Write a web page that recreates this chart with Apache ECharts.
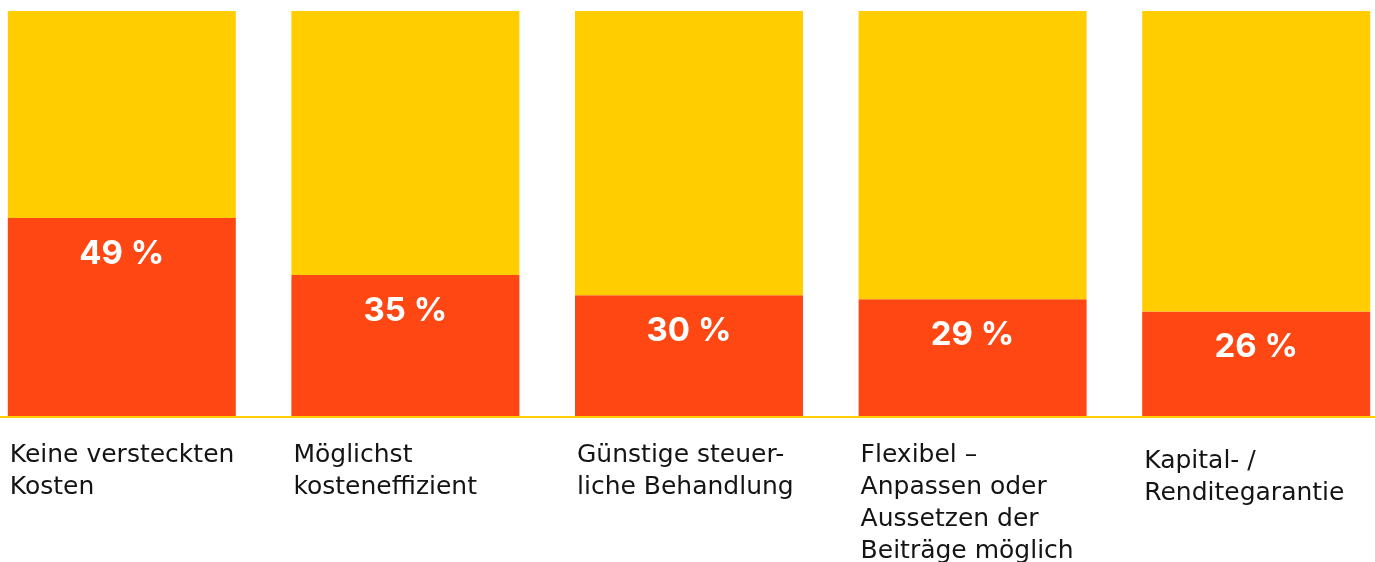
<!DOCTYPE html>
<html>
<head>
<meta charset="utf-8">
<script src="https://cdn.jsdelivr.net/npm/echarts@6/dist/echarts.min.js"></script>
<style>
html,body{margin:0;padding:0;background:#fff;}
#chart{width:1375px;height:562px;}
</style>
</head>
<body>
<div id="chart"></div>
<script>
var categories = [
  'Keine versteckten\nKosten',
  'Möglichst\nkosteneffizient',
  'Günstige steuer-\nliche Behandlung',
  'Flexibel –\nAnpassen oder\nAussetzen der\nBeiträge möglich',
  'Kapital- /\nRenditegarantie'
];
var shares = [49, 35, 30, 29, 26];
var rest = shares.map(function (v) { return 100 - v; });
var labelTopPad = [0, 0, 0, 0, 6];

var chart = echarts.init(document.getElementById('chart'));
chart.setOption({
  animation: false,
  grid: { left: -20, width: 1418, top: 11, height: 406, outerBoundsMode: 'none', containLabel: false },
  xAxis: {
    type: 'category',
    data: categories.map(function (c, i) {
      return { value: c, textStyle: { align: 'left', padding: [labelTopPad[i], 0, 0, -112] } };
    }),
    axisLine: { show: true, lineStyle: { color: '#FFCD00', width: 2 } },
    axisTick: { show: false },
    axisLabel: {
      interval: 0,
      hideOverlap: false,
      align: 'left',
      verticalAlign: 'top',
      margin: 22,
      fontFamily: 'DejaVu Sans',
      fontSize: 25,
      lineHeight: 32,
      color: '#141414'
    },
    z: 10
  },
  yAxis: { type: 'value', min: 0, max: 100, show: false, splitLine: { show: false } },
  series: [
    {
      type: 'bar',
      stack: 'a',
      data: shares,
      barWidth: 228,
      itemStyle: { color: '#FF4713' },
      label: {
        show: true,
        position: ['50%', 36],
        align: 'center',
        verticalAlign: 'middle',
        formatter: '{c} %',
        color: '#fff',
        fontFamily: 'Inter',
        fontWeight: 'bold',
        fontSize: 33
      }
    },
    {
      type: 'bar',
      stack: 'a',
      data: rest,
      barWidth: 228,
      itemStyle: { color: '#FFCD00' }
    }
  ]
});
</script>
</body>
</html>
